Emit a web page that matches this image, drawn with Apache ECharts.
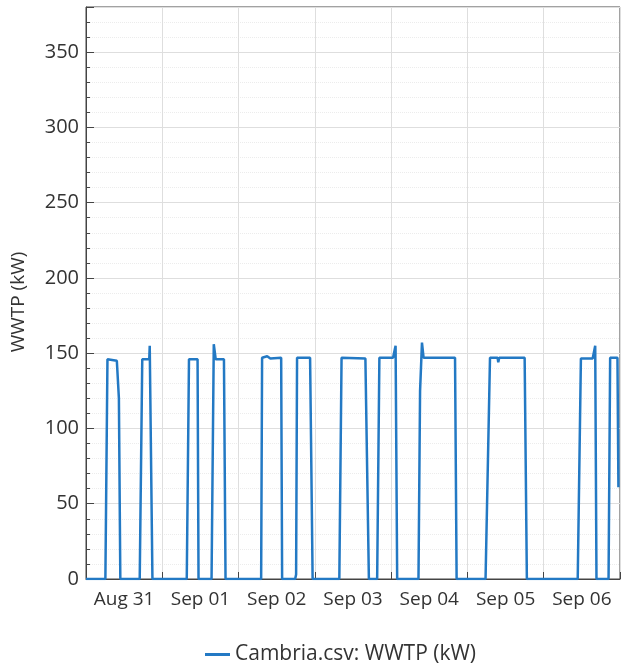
<!DOCTYPE html>
<html>
<head>
<meta charset="utf-8">
<style>
  html, body { margin: 0; padding: 0; background: #fff; }
  #chart { width: 621px; height: 667px; }
</style>
<script src="https://cdn.jsdelivr.net/npm/echarts@6/dist/echarts.min.js"></script>
</head>
<body>
<div id="chart"></div>
<script>
// hours since Aug 31 00:00 and the WWTP load
const hours = [0, 6.1, 6.75, 9.7, 10.35, 10.8,
  16.9, 17.7, 19.9, 20.05, 20.9,
  31.7, 32.4, 35.1, 35.4,
  39.5, 40.2, 40.8, 43.4, 43.9,
  55.1, 55.4, 57, 58, 61.4, 61.7,
  65.8, 66.1, 66.4, 70.5, 71.3,
  79.7, 80.4, 87.9, 89.0,
  91.6, 92.3, 96.6, 97.4, 97.9,
  104.6, 105.1, 105.7, 106.2, 116.1, 116.6,
  125.7, 127.1, 129.5, 129.7, 130, 138.0, 138.7,
  154.7, 155.7, 159.4, 160.2, 160.6,
  164.4, 164.9, 167.2, 167.5];
const kw = [0, 0, 146, 145, 120, 0,
  0, 146, 146, 155, 0,
  0, 146, 146, 0,
  0, 156, 146, 146, 0,
  0, 147, 148, 146.5, 147, 0,
  0, 3, 147, 147, 0,
  0, 147, 146.5, 0,
  0, 147, 147, 155, 0,
  0, 125, 157, 147, 147, 0,
  0, 147, 147, 144, 147, 147, 0,
  0, 146.5, 146.5, 155, 0,
  0, 147, 147, 61];
const dayLabels = ['Aug 31', 'Sep 01', 'Sep 02', 'Sep 03', 'Sep 04', 'Sep 05', 'Sep 06'];
const seriesName = 'Cambria.csv: WWTP (kW)';

const font = 'Open Sans';
const chart = echarts.init(document.getElementById('chart'));
chart.setOption({
  animation: false,
  textStyle: { fontFamily: font },
  grid: { left: 86, top: 7, right: 1, bottom: 88, show: true, borderColor: '#444', borderWidth: 1 },
  legend: {
    top: 639, left: 200,
    icon: 'rect', itemWidth: 25, itemHeight: 3, itemGap: 10,
    textStyle: { fontSize: 21, color: '#333', fontFamily: font },
    data: [seriesName]
  },
  xAxis: [{
    type: 'value', min: 0, max: 168, interval: 24,
    axisLine: { lineStyle: { color: '#444' } },
    axisTick: { inside: true, length: 7, lineStyle: { color: '#444' } },
    axisLabel: { show: false },
    splitLine: { show: true, lineStyle: { color: '#dedede' } }
  }, {
    type: 'category', data: dayLabels, position: 'bottom', boundaryGap: true,
    axisLine: { show: false }, axisTick: { show: false },
    axisLabel: { interval: 0, hideOverlap: false, fontSize: 19, color: '#333', margin: 11, fontFamily: font }
  }],
  yAxis: {
    type: 'value', min: 0, max: 380, interval: 50,
    name: 'WWTP (kW)', nameLocation: 'middle', nameGap: 58,
    nameTextStyle: { fontSize: 19, color: '#333', fontFamily: font, padding: [0, 18, 0, 0] },
    axisLine: { show: true, lineStyle: { color: '#444' } },
    axisTick: { show: true, inside: true, length: 8, lineStyle: { color: '#444' } },
    minorTick: { show: true, splitNumber: 5, length: 4, lineStyle: { color: '#444' } },
    axisLabel: { fontSize: 20, color: '#333', margin: 7, fontFamily: font,
      showMaxLabel: false },
    splitLine: { lineStyle: { color: '#dedede' } },
    minorSplitLine: { show: true, lineStyle: { color: '#ececec', type: 'dotted' } }
  },
  series: [{
    name: seriesName, type: 'line', xAxisIndex: 0,
    data: hours.map((h, i) => [h, kw[i]]),
    showSymbol: false, symbol: 'none',
    lineStyle: { color: '#2379c4', width: 2.5 },
    itemStyle: { color: '#2379c4' }
  }]
});
</script>
</body>
</html>
